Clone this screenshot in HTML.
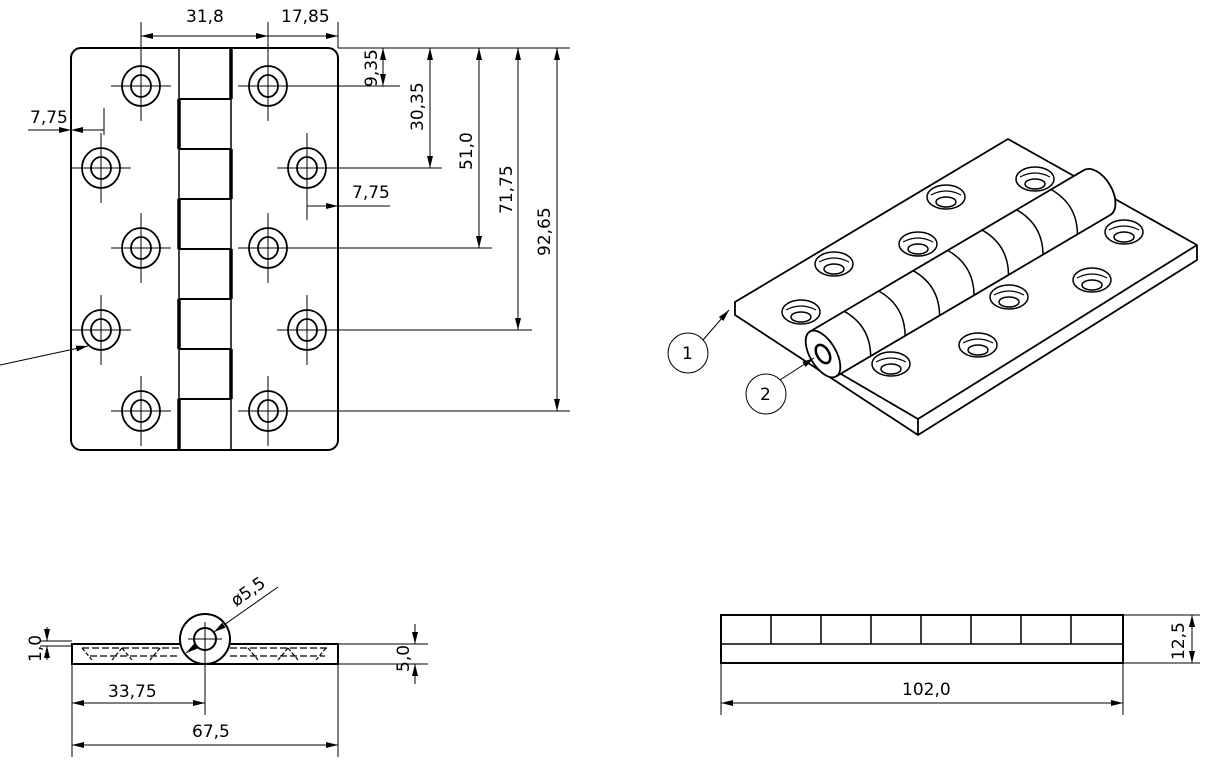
<!DOCTYPE html>
<html><head><meta charset="utf-8"><style>
html,body{margin:0;padding:0;background:#fff}
svg{display:block}
text{font-family:"DejaVu Sans","Liberation Sans",sans-serif;font-size:17px;fill:#000}
</style></head><body>
<svg width="1226" height="777" viewBox="0 0 1226 777" xmlns="http://www.w3.org/2000/svg">
<defs>
<marker id="a" viewBox="0 0 12 6" refX="12" refY="3" markerWidth="12" markerHeight="6" markerUnits="userSpaceOnUse" orient="auto-start-reverse"><path d="M0,0L12,3L0,6z" fill="#000"/></marker>
<g id="hole"><ellipse rx="19" ry="20" fill="none" stroke="#000" stroke-width="1.8"/><ellipse rx="10" ry="11" fill="none" stroke="#000" stroke-width="1.8"/><path d="M-30,0H30M0,-35V35" stroke="#000" stroke-width="1"/></g>
<g id="ih"><ellipse rx="19" ry="12" fill="#fff" stroke="#000" stroke-width="1.5"/><path d="M-15,-2 Q0,-10 15,-2" fill="none" stroke="#000" stroke-width="1.2"/><ellipse cx="0" cy="5" rx="10" ry="5" fill="none" stroke="#000" stroke-width="1.5"/></g>
</defs>
<g fill="none" stroke="#000">
<rect x="71" y="48" width="267" height="402" rx="10" stroke-width="2"/>
<path d="M179,48V450M231,48V450" stroke-width="1.5"/>
<path d="M179,99H231M179,149H231M179,199H231M179,249H231M179,299H231M179,349H231M179,399H231" stroke-width="2"/>
<path d="M231,48V99M231,149V199M231,249V299M231,349V399M179,99V149M179,199V249M179,299V349M179,399V450" stroke-width="3.5"/>
</g>
<use href="#hole" x="141" y="86"/><use href="#hole" x="141" y="248"/><use href="#hole" x="141" y="411"/>
<use href="#hole" x="101" y="168"/><use href="#hole" x="101" y="330"/>
<use href="#hole" x="268" y="86"/><use href="#hole" x="268" y="248"/><use href="#hole" x="268" y="411"/>
<use href="#hole" x="307" y="168"/><use href="#hole" x="307" y="330"/>
<g fill="none" stroke="#000" stroke-width="1">
<path d="M141,22V52M268,22V52M338,22V48"/>
<path d="M141,36H268" marker-start="url(#a)" marker-end="url(#a)"/>
<path d="M268,36H338" marker-end="url(#a)"/>
<path d="M338,48H570M268,86H400M307,168H442M268,248H492M307,330H532M268,411H570"/>
<path d="M383,48V86" marker-start="url(#a)" marker-end="url(#a)"/>
<path d="M430,48V168" marker-start="url(#a)" marker-end="url(#a)"/>
<path d="M479,48V248" marker-start="url(#a)" marker-end="url(#a)"/>
<path d="M518,48V330" marker-start="url(#a)" marker-end="url(#a)"/>
<path d="M557,48V411" marker-start="url(#a)" marker-end="url(#a)"/>
<path d="M28,130H71" marker-end="url(#a)"/>
<path d="M104,130H71" marker-end="url(#a)"/><path d="M104,108V135"/>
<path d="M390,206H338"/><path d="M307,206H338" marker-end="url(#a)"/><path d="M307,190V220"/>
<path d="M0,365L88,346" marker-end="url(#a)"/>
</g>
<text x="186" y="22">31,8</text><text x="281" y="22">17,85</text>
<text x="30" y="123">7,75</text><text x="352" y="198">7,75</text>
<text transform="translate(377,87) rotate(-90)">9,35</text>
<text transform="translate(423,131) rotate(-90)">30,35</text>
<text transform="translate(472,170) rotate(-90)">51,0</text>
<text transform="translate(512,214) rotate(-90)">71,75</text>
<text transform="translate(550,256) rotate(-90)">92,65</text>

<g fill="none" stroke="#000">
<rect x="72" y="644" width="266" height="20" stroke-width="2"/>
<path d="M82,648H180M230,648H330M90,656H180M230,656H325" stroke-width="1.2" stroke-dasharray="7,3"/>
<path d="M82,648L92,660M122,648L112,660M122,648L132,660M160,648L150,660M248,648L258,660M288,648L278,660M288,648L298,660M326,648L316,660" stroke-width="1.2" stroke-dasharray="4,2"/>
<circle cx="205" cy="639" r="25" fill="#fff" stroke-width="2"/>
<circle cx="205" cy="639" r="11" stroke-width="2"/>
<path d="M188,639H222M205,622V715" stroke-width="1"/>
<path d="M40,641H72M40,646H72" stroke-width="1"/>
<path d="M47,627V641" marker-end="url(#a)" stroke-width="1"/><path d="M47,660V646" marker-end="url(#a)" stroke-width="1"/>
<path d="M338,644H428M338,664H428" stroke-width="1"/>
<path d="M415,624V644" marker-end="url(#a)" stroke-width="1"/><path d="M415,684V664" marker-end="url(#a)" stroke-width="1"/>
<path d="M72,664V757M338,664V757" stroke-width="1"/>
<path d="M72,703H205" marker-start="url(#a)" marker-end="url(#a)" stroke-width="1"/>
<path d="M72,745H338" marker-start="url(#a)" marker-end="url(#a)" stroke-width="1"/>
<path d="M278,587L214,632" marker-end="url(#a)" stroke-width="1"/>
<path d="M196,646L186,653" marker-end="url(#a)" stroke-width="1"/>
</g>
<text x="108" y="697">33,75</text><text x="192" y="737">67,5</text>
<text transform="translate(41,662) rotate(-90)">1,0</text>
<text transform="translate(409,672) rotate(-90)">5,0</text>
<text transform="translate(236,607) rotate(-35)">ø5,5</text>

<g fill="none" stroke="#000">
<rect x="721" y="615" width="402" height="48" stroke-width="2"/>
<path d="M721,644H1123M771,615V644M821,615V644M871,615V644M921,615V644M971,615V644M1021,615V644M1071,615V644" stroke-width="1.5"/>
<path d="M721,663V715M1123,663V715M1123,615H1200M1123,663H1200" stroke-width="1"/>
<path d="M721,703H1123" marker-start="url(#a)" marker-end="url(#a)" stroke-width="1"/>
<path d="M1192,615V663" marker-start="url(#a)" marker-end="url(#a)" stroke-width="1"/>
</g>
<text x="902" y="695">102,0</text>
<text transform="translate(1184,660) rotate(-90)">12,5</text>

<g stroke="#000" stroke-width="1.8" fill="#fff" stroke-linejoin="round">
<path d="M735,302L1008,139L1197,245L1197,260L918,435L735,315Z"/>
<path d="M841,374L918,419L1197,245M918,419V435" fill="none"/>
</g>
<use href="#ih" x="1035" y="179"/><use href="#ih" x="946" y="197"/><use href="#ih" x="918" y="244"/>
<use href="#ih" x="834" y="264"/><use href="#ih" x="801" y="312"/>
<use href="#ih" x="1124" y="232"/><use href="#ih" x="1092" y="280"/><use href="#ih" x="1009" y="297"/>
<use href="#ih" x="978" y="345"/><use href="#ih" x="891" y="364"/>
<g transform="translate(823,354) rotate(-30.5)" stroke="#000" stroke-width="1.8" fill="#fff">
<path d="M0,-26H318A15,26 0 0 1 318,26H0Z"/>
<g fill="none" stroke-width="1.5">
<path d="M40,-26Q55,0 40,26M80,-26Q95,0 80,26M120,-26Q135,0 120,26M160,-26Q175,0 160,26M200,-26Q215,0 200,26M240,-26Q255,0 240,26M280,-26Q295,0 280,26"/>
</g>
<ellipse cx="0" cy="0" rx="13" ry="26"/>
<ellipse cx="0" cy="0" rx="6" ry="10" stroke-width="2.5"/>
</g>
<g fill="none" stroke="#000" stroke-width="1">
<circle cx="688" cy="353" r="20"/><circle cx="766" cy="394" r="20"/>
<path d="M703,340L729,310" marker-end="url(#a)"/>
<path d="M780,380L814,358" marker-end="url(#a)"/>
</g>
<text x="682" y="359">1</text><text x="760" y="400">2</text>
</svg>
</body></html>
